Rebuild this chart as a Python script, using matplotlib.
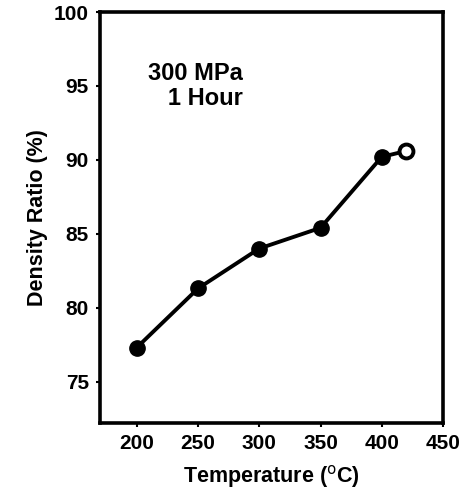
import matplotlib.pyplot as plt

plt.rcParams['font.family'] = ['Liberation Sans', 'DejaVu Sans']

temperature = [200, 250, 300, 350, 400, 420]
density_ratio = [77.3, 81.3, 84.0, 85.4, 90.2, 90.6]

x_ticks = [200, 250, 300, 350, 400, 450]
y_ticks = [75, 80, 85, 90, 95, 100]

fig = plt.figure(figsize=(4.65, 4.93), dpi=100)
ax = fig.add_axes([100 / 465, 70 / 493, 343 / 465, 411 / 493])

ax.plot(temperature[:-1], density_ratio[:-1], color='black', lw=2.8,
        marker='o', ms=11, mfc='black', mec='black', zorder=3)
ax.plot(temperature[-2:], density_ratio[-2:], color='black', lw=2.8, zorder=2)
# last point drawn as an open circle
ax.plot(temperature[-1:], density_ratio[-1:], ls='none', marker='o', ms=10,
        mfc='white', mec='black', mew=2.8, zorder=4)

ax.set_xlim(170, 450)
ax.set_ylim(72.2, 100)
ax.set_xticks(x_ticks)
ax.set_yticks(y_ticks)

for s in ax.spines.values():
    s.set_linewidth(2.6)
ax.tick_params(direction='out', length=3, width=1.5, labelsize=15, pad=5)
for lab in ax.get_xticklabels() + ax.get_yticklabels():
    lab.set_fontweight('bold')

ax.set_xlabel(r'Temperature ($^{\rm o}$C)', fontsize=15.5, fontweight='bold', labelpad=7)
ax.set_ylabel('Density Ratio (%)', fontsize=15.5, fontweight='bold', labelpad=4)

ax.text(0.140, 0.82, '300 MPa\n   1 Hour', transform=ax.transAxes,
        fontsize=17, fontweight='bold', va='center', ha='left', linespacing=1.15)

fig.savefig('out.png', dpi=100)
